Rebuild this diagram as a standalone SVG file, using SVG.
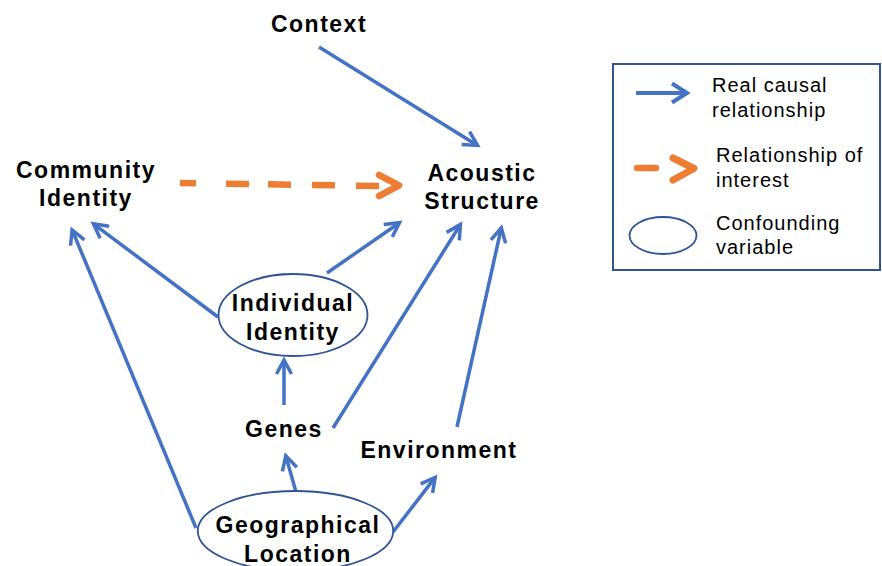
<svg xmlns="http://www.w3.org/2000/svg" width="882" height="566" viewBox="0 0 882 566">
<style>
.lbl{font-family:"Liberation Sans",Arial,sans-serif;font-weight:bold;font-size:23px;letter-spacing:1.5px;fill:#000;text-anchor:middle}
.leg{font-family:"Liberation Sans",Arial,sans-serif;font-size:20px;letter-spacing:1px;fill:#000}
.ell{fill:#fff;stroke:#2F5597;stroke-width:1.8}
.conn{stroke:#4472C4;stroke-width:3.5;fill:none;marker-end:url(#ah)}
</style>
<defs>
<marker id="ah" markerUnits="userSpaceOnUse" markerWidth="30" markerHeight="30" viewBox="-20 -15 30 30" refX="0" refY="0" orient="auto" overflow="visible">
<path d="M-14,-7.5 L0,0 L-14,7.5" fill="none" stroke="#4472C4" stroke-width="3.5"/>
</marker>
</defs>
<rect width="882" height="566" fill="#fff"/>
<g id="connectors">
<line class="conn" x1="319" y1="47" x2="477.5" y2="145.4"/>
<line class="conn" x1="218" y1="317" x2="93.4" y2="223.8"/>
<line class="conn" x1="327" y1="273" x2="399.5" y2="222.7"/>
<line class="conn" x1="196" y1="528" x2="72.1" y2="229.8"/>
<line class="conn" x1="333" y1="428" x2="460.4" y2="224.5"/>
<line class="conn" x1="457" y1="427" x2="501.3" y2="227.9"/>
<line class="conn" x1="284" y1="405" x2="284" y2="360"/>
<line class="conn" x1="296" y1="492" x2="285.8" y2="455.9"/>
<line class="conn" x1="393" y1="532" x2="435.2" y2="477.4"/>
<g id="interest">
<line x1="180" y1="183" x2="379" y2="186" stroke="#ED7D31" stroke-width="6.5" stroke-dasharray="16 30 23 19 23 21 23 21 23"/>
<path d="M379,175 L399,185.5 L379,196" fill="none" stroke="#ED7D31" stroke-width="6.5" stroke-linecap="round" stroke-linejoin="round"/>
</g>
</g>
<g id="context"><text class="lbl" x="319" y="32">Context</text></g>
<g id="community"><text class="lbl" x="86" y="178">Community</text><text class="lbl" x="86" y="206">Identity</text></g>
<g id="acoustic"><text class="lbl" x="482" y="181">Acoustic</text><text class="lbl" x="482" y="209">Structure</text></g>
<g id="individual"><ellipse class="ell" cx="293" cy="315" rx="74.5" ry="41"/><text class="lbl" x="293" y="311">Individual</text><text class="lbl" x="293" y="340">Identity</text></g>
<g id="genes"><text class="lbl" x="284" y="437">Genes</text></g>
<g id="environment"><text class="lbl" x="439" y="458">Environment</text></g>
<g id="geographical"><ellipse class="ell" cx="295.5" cy="531" rx="97.7" ry="40"/><text class="lbl" x="298" y="533">Geographical</text><text class="lbl" x="298" y="562">Location</text></g>
<g id="legend">
<rect x="613" y="64" width="267" height="206" fill="none" stroke="#2F5597" stroke-width="2"/>
<line x1="636" y1="93" x2="686" y2="93" stroke="#4472C4" stroke-width="4"/>
<path d="M672,83.5 L687,93 L672,102.5" fill="none" stroke="#4472C4" stroke-width="4"/>
<text class="leg" x="712" y="92">Real causal</text>
<text class="leg" x="712" y="117">relationship</text>
<line x1="637" y1="168" x2="656" y2="168" stroke="#ED7D31" stroke-width="6.5" stroke-linecap="round"/>
<path d="M673,158 L694,168.5 L673,180" fill="none" stroke="#ED7D31" stroke-width="7" stroke-linecap="round" stroke-linejoin="round"/>
<text class="leg" x="716" y="162">Relationship of</text>
<text class="leg" x="716" y="187">interest</text>
<ellipse class="ell" cx="663" cy="235.5" rx="33.5" ry="18.5"/>
<text class="leg" x="716" y="230">Confounding</text>
<text class="leg" x="716" y="254">variable</text>
</g>
</svg>
